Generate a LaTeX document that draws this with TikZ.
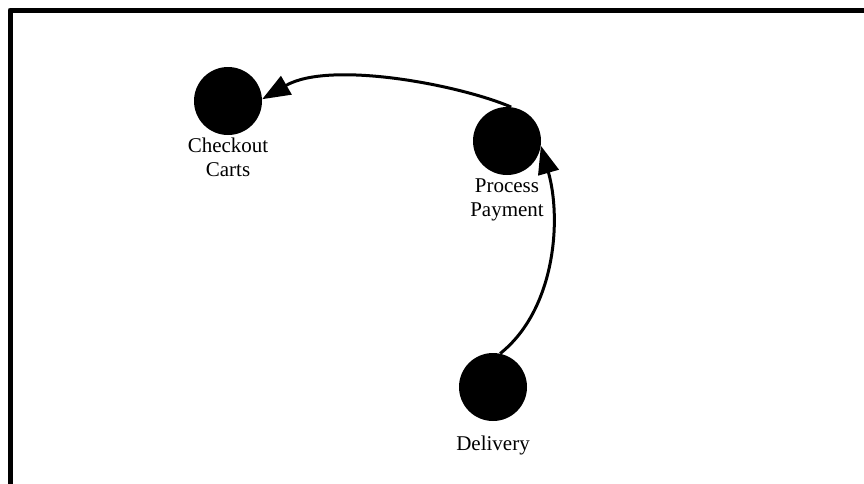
\documentclass[tikz,border=0pt]{standalone}
\usepackage{fontspec}
\setmainfont{Liberation Serif}
\usetikzlibrary{arrows.meta}
\tikzset{
  state/.style={circle, fill=black, draw=none, minimum size=68pt, inner sep=0pt},
  caption/.style={anchor=north, inner sep=0pt, align=center,
    font=\fontsize{21}{24}\selectfont},
  flow/.style={line width=3pt, -{Triangle[length=28pt,width=21pt]}},
}
\begin{document}
\begin{tikzpicture}[x=1pt, y=-1pt]
  \useasboundingbox (0,0) rectangle (864,483);
  % outer frame, running off the page on the right and bottom
  \begin{scope}
    \clip (0,0) rectangle (864,483);
    \draw[line width=5pt, line join=round] (10,10) rectangle (900,520);
  \end{scope}

  % states
  \node[state] (cc) at (228,101) {};
  \node[state] (pp) at (507,141) {};
  \node[state] (dl) at (493,387) {};

  % captions
  \node[caption] (cct) at (228,138) {Checkout\\Carts};
  \node[caption] (ppt) at (507,179) {Process\\Payment};
  \node[caption] (dlt) at (493,436) {Delivery};

  % transitions
  \draw[flow] (pp.83) .. controls (460,85) and (330,60) .. (cc.3);
  \draw[flow] (dl.78) .. controls (555,310) and (562,220) .. (pp.-8);
\end{tikzpicture}
\end{document}
